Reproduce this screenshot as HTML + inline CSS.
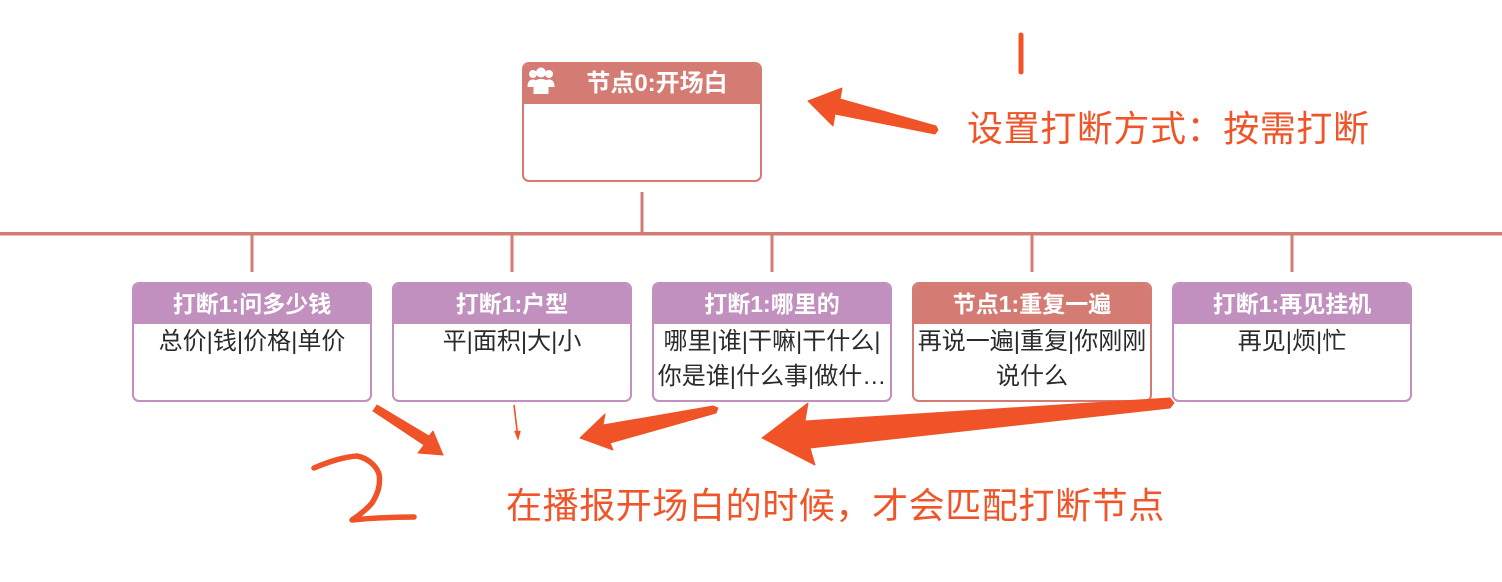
<!DOCTYPE html>
<html>
<head>
<meta charset="utf-8">
<style>
  html,body{margin:0;padding:0;background:#fff;}
  body{width:1502px;height:582px;position:relative;overflow:hidden;font-family:"Liberation Sans","Noto Sans CJK SC",sans-serif;}
  .box{position:absolute;box-sizing:border-box;width:240px;height:120px;border:2px solid;border-radius:7px;background:#fff;overflow:hidden;}
  .hd{position:absolute;left:0;top:0;right:0;height:40px;color:#fff;font-weight:bold;font-size:23px;line-height:40px;text-align:center;white-space:nowrap;}
  .bd{position:absolute;left:0;right:0;top:40px;font-size:24px;line-height:35px;color:#2a2a2a;text-align:center;white-space:nowrap;}
  .p{border-color:#c190be;}
  .p .hd{background:#c190be;}
  .r{border-color:#d47b74;}
  .r .hd{background:#d47b74;}
  .ann{position:absolute;color:#ef5529;font-size:36px;line-height:40px;letter-spacing:0.6px;white-space:nowrap;font-family:"Liberation Sans","Noto Sans CJK SC",sans-serif;}
  svg{position:absolute;left:0;top:0;}
</style>
</head>
<body>
<svg width="1502" height="582" viewBox="0 0 1502 582">
  <g fill="#d47b74">
    <rect x="0" y="232" width="1502" height="3.5"/>
    <rect x="640.5" y="192" width="3" height="41"/>
    <rect x="250.5" y="235" width="3" height="37"/>
    <rect x="510.5" y="235" width="3" height="37"/>
    <rect x="770.5" y="235" width="3" height="37"/>
    <rect x="1030.5" y="235" width="3" height="37"/>
    <rect x="1290.5" y="235" width="3" height="37"/>
  </g>
</svg>

<div class="box r" style="left:522px;top:62px;">
  <div class="hd" style="font-size:24px;padding-left:30px;">节点0:开场白</div>
  <svg width="32" height="40" viewBox="0 0 32 40" style="left:1px;top:1px;">
    <g fill="#fff">
      <circle cx="8" cy="9" r="4"/>
      <circle cx="16" cy="7.5" r="5"/>
      <circle cx="24" cy="9" r="4"/>
      <path d="M2.5 22 Q2.5 14.5 8 14.5 Q11 14.5 11.5 16.5 L11.5 22 Z"/>
      <path d="M29.5 22 Q29.5 14.5 24 14.5 Q21 14.5 20.5 16.5 L20.5 22 Z"/>
      <path d="M8.5 29 L8.5 20 Q8.5 14 16 14 Q23.5 14 23.5 20 L23.5 29 Z"/>
    </g>
  </svg>
</div>

<div class="box p" style="left:132px;top:282px;">
  <div class="hd">打断1:问多少钱</div>
  <div class="bd">总价|钱|价格|单价</div>
</div>
<div class="box p" style="left:392px;top:282px;">
  <div class="hd">打断1:户型</div>
  <div class="bd">平|面积|大|小</div>
</div>
<div class="box p" style="left:652px;top:282px;">
  <div class="hd">打断1:哪里的</div>
  <div class="bd">哪里|谁|干嘛|干什么|<br>你是谁|什么事|做什…</div>
</div>
<div class="box r" style="left:912px;top:282px;">
  <div class="hd">节点1:重复一遍</div>
  <div class="bd">再说一遍|重复|你刚刚<br>说什么</div>
</div>
<div class="box p" style="left:1172px;top:282px;">
  <div class="hd">打断1:再见挂机</div>
  <div class="bd">再见|烦|忙</div>
</div>

<div class="ann" style="left:967px;top:109px;">设置打断方式：按需打断</div>
<div class="ann" style="left:506px;top:486px;">在播报开场白的时候，才会匹配打断节点</div>

<svg width="1502" height="582" viewBox="0 0 1502 582">
  <g fill="#ef5327" stroke="#ef5327" stroke-linejoin="round">
    <!-- top vertical stroke -->
    <line x1="1021" y1="35" x2="1021" y2="72" stroke-width="5" stroke-linecap="round"/>
    <!-- arrow to top node -->
    <polygon stroke-width="1" points="808,101 842,88 840,99 936,126 938,130 935,134 835,114 833,126"/>
    <!-- big arrow from right -->
    <polygon stroke-width="1" points="1170,398 1174,403 1170,408 810,448 815,465 762,438 808,403 805,421"/>
    <!-- middle arrow -->
    <polygon stroke-width="1" points="713,406 718,408 716,413 610,443 613,450 580,438 605,414 603,425"/>
    <!-- left arrow -->
    <polygon stroke-width="1" points="373,411 377,405 429,436 433,431 443,455 418,453 424,445"/>
    <!-- thin arrow -->
    <line x1="514" y1="405" x2="517.5" y2="434" stroke-width="1.6"/>
    <polygon stroke-width="0.5" points="514.5,431 520.5,431 518,440"/>
  </g>
  <!-- hand-drawn 2 -->
  <path d="M314 468 C328 462 342 457 357 456 C367 458 376 465 379 474 C381 486 377 495 372 503 C366 510 358 516 352 520 C372 518 396 517 414 517" fill="none" stroke="#ef5327" stroke-width="5.5" stroke-linecap="round" stroke-linejoin="round"/>
</svg>
</body>
</html>
